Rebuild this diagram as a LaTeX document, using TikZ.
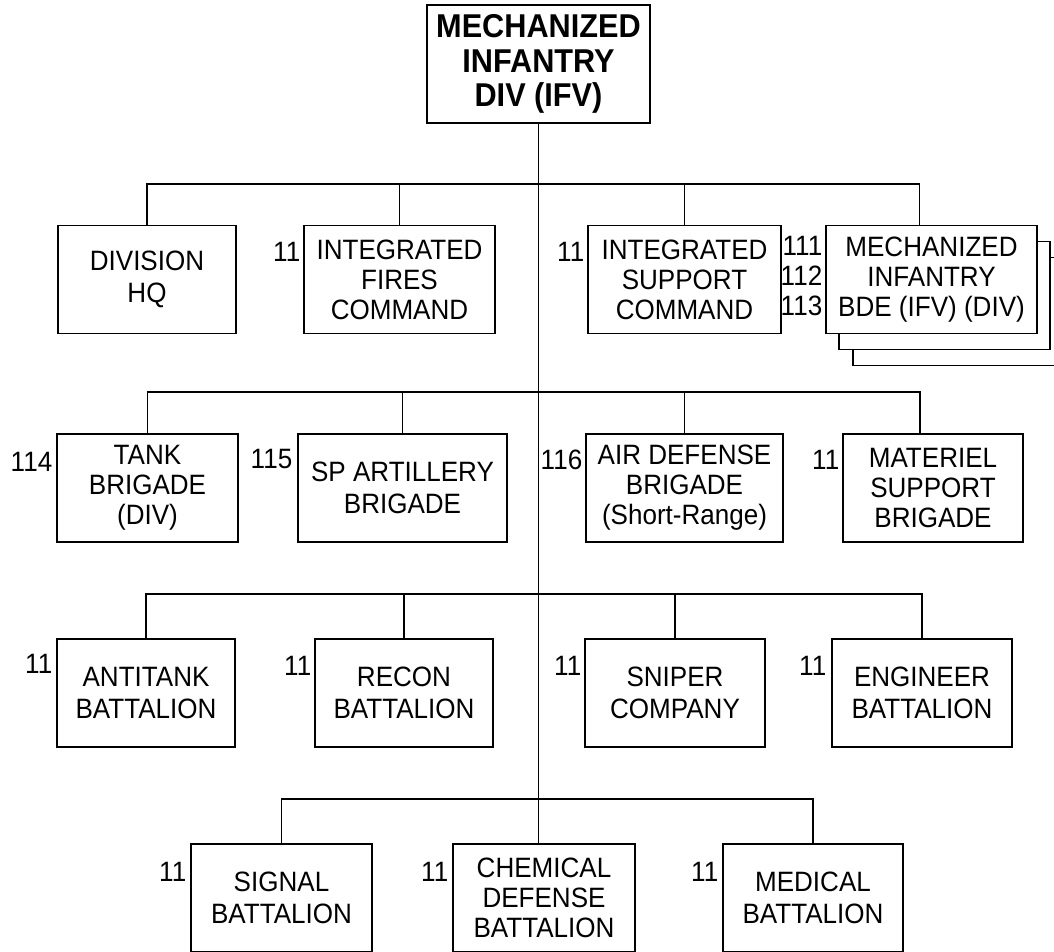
\documentclass[tikz,border=0pt]{standalone}
\usepackage{fontspec}
\setmainfont{Liberation Sans}[FakeStretch=0.93]
\usepackage{tikz}
\usetikzlibrary{calc}
\usetikzlibrary{positioning}
\tikzset{>=latex}
\tikzstyle{unit} = [rectangle, draw, fill=white, line width=1.1pt, align=center, inner sep=2pt, minimum height=108pt, font=\fontsize{28}{30}\selectfont]
\tikzstyle{pair} = [font=\fontsize{28}{32.5}\selectfont]
\tikzstyle{tag} = [draw=none, inner sep=0pt, anchor=north east, align=right, font=\fontsize{28}{30}\selectfont]
\tikzstyle{link} = [line width=1.1pt]

\begin{document}
\begin{tikzpicture}[x=1pt, y=-1pt]
\useasboundingbox (0,0) rectangle (1054,951);
% top
\node [unit, font=\bfseries\fontsize{33}{34.5}\selectfont, minimum width=223pt, minimum height=118pt] (div) at (538.5,64) {MECHANIZED\\INFANTRY\\DIV (IFV)};
\coordinate (b1) at (538.5,184);
\coordinate (b2) at (538.5,392);
\coordinate (b3) at (538.5,594);
\coordinate (b4) at (538.5,799);

% row 1
\node [unit, pair, minimum width=178pt] (hq) at (147,279.5) {DIVISION\\HQ};
\node [unit, minimum width=191pt] (fires) at (399.5,279.5) {INTEGRATED\\FIRES\\COMMAND};
\node [unit, minimum width=193pt] (isc) at (684.5,279.5) {INTEGRATED\\SUPPORT\\COMMAND};
\node [unit, minimum width=211pt] (mib3) at (958.5,311.5) {};
\node [unit, minimum width=211pt] (mib2) at (944.5,295.5) {};
\node [unit, minimum width=211pt] (mib) at (931.5,279.5) {MECHANIZED\\INFANTRY\\BDE (IFV) (DIV)};

% row 2
\node [unit, minimum width=181pt] (tank) at (147.5,488) {TANK\\BRIGADE\\(DIV)};
\node [unit, pair, minimum width=209pt] (spart) at (402.5,488) {SP ARTILLERY\\BRIGADE};
\node [unit, minimum width=197pt] (adb) at (684.5,488) {AIR DEFENSE\\BRIGADE\\(Short-Range)};
\node [unit, minimum width=180pt] (msb) at (933,488) {MATERIEL\\SUPPORT\\BRIGADE};

% row 3
\node [unit, pair, minimum width=178pt] (atk) at (146,693) {ANTITANK\\BATTALION};
\node [unit, pair, minimum width=178pt] (recon) at (404,693) {RECON\\BATTALION};
\node [unit, pair, minimum width=180pt] (snip) at (675,693) {SNIPER\\COMPANY};
\node [unit, pair, minimum width=180pt] (eng) at (922,693) {ENGINEER\\BATTALION};

% row 4
\node [unit, pair, minimum width=181pt] (sig) at (281.5,898) {SIGNAL\\BATTALION};
\node [unit, minimum width=182pt] (chem) at (544,898) {CHEMICAL\\DEFENSE\\BATTALION};
\node [unit, pair, minimum width=180pt] (med) at (813,898) {MEDICAL\\BATTALION};

% numbers
\node [tag] (t-fires) at ([xshift=-3pt, yshift=-17pt]fires.north west) {11};
\node [tag] (t-isc) at ([xshift=-3pt, yshift=-17pt]isc.north west) {11};
\node [tag] (t-mib) at ([xshift=-3pt, yshift=-11pt]mib.north west) {111\\112\\113};
\node [tag] (t-tank) at ([xshift=-4pt, yshift=-19pt]tank.north west) {114};
\node [tag] (t-spart) at ([xshift=-5pt, yshift=-16pt]spart.north west) {115};
\node [tag] (t-adb) at ([xshift=-3pt, yshift=-16pt]adb.north west) {116};
\node [tag] (t-msb) at ([xshift=-3pt, yshift=-17pt]msb.north west) {11};
\node [tag] (t-atk) at ([xshift=-4pt, yshift=-16pt]atk.north west) {11};
\node [tag] (t-recon) at ([xshift=-3pt, yshift=-18pt]recon.north west) {11};
\node [tag] (t-snip) at ([xshift=-3pt, yshift=-18pt]snip.north west) {11};
\node [tag] (t-eng) at ([xshift=-5pt, yshift=-18pt]eng.north west) {11};
\node [tag] (t-sig) at ([xshift=-4pt, yshift=-19pt]sig.north west) {11};
\node [tag] (t-chem) at ([xshift=-4pt, yshift=-19pt]chem.north west) {11};
\node [tag] (t-med) at ([xshift=-4pt, yshift=-19pt]med.north west) {11};

% lines
\draw [link] (div.south) -- (div.south |- chem.north);
\draw [link] (hq.north) |- (b1) -| ([xshift=-12pt]mib.north);
\draw [link] (fires.north) -- (fires.north |- b1);
\draw [link] (isc.north) -- (isc.north |- b1);
\draw [link] (tank.north) |- (b2) -| ([xshift=-13pt]msb.north);
\draw [link] (spart.north) -- (spart.north |- b2);
\draw [link] (adb.north) -- (adb.north |- b2);
\draw [link] (atk.north) |- (b3) -| (eng.north);
\draw [link] (recon.north) -- (recon.north |- b3);
\draw [link] (snip.north) -- (snip.north |- b3);
\draw [link] (sig.north) |- (b4) -| (med.north);
\end{tikzpicture}
\end{document}
